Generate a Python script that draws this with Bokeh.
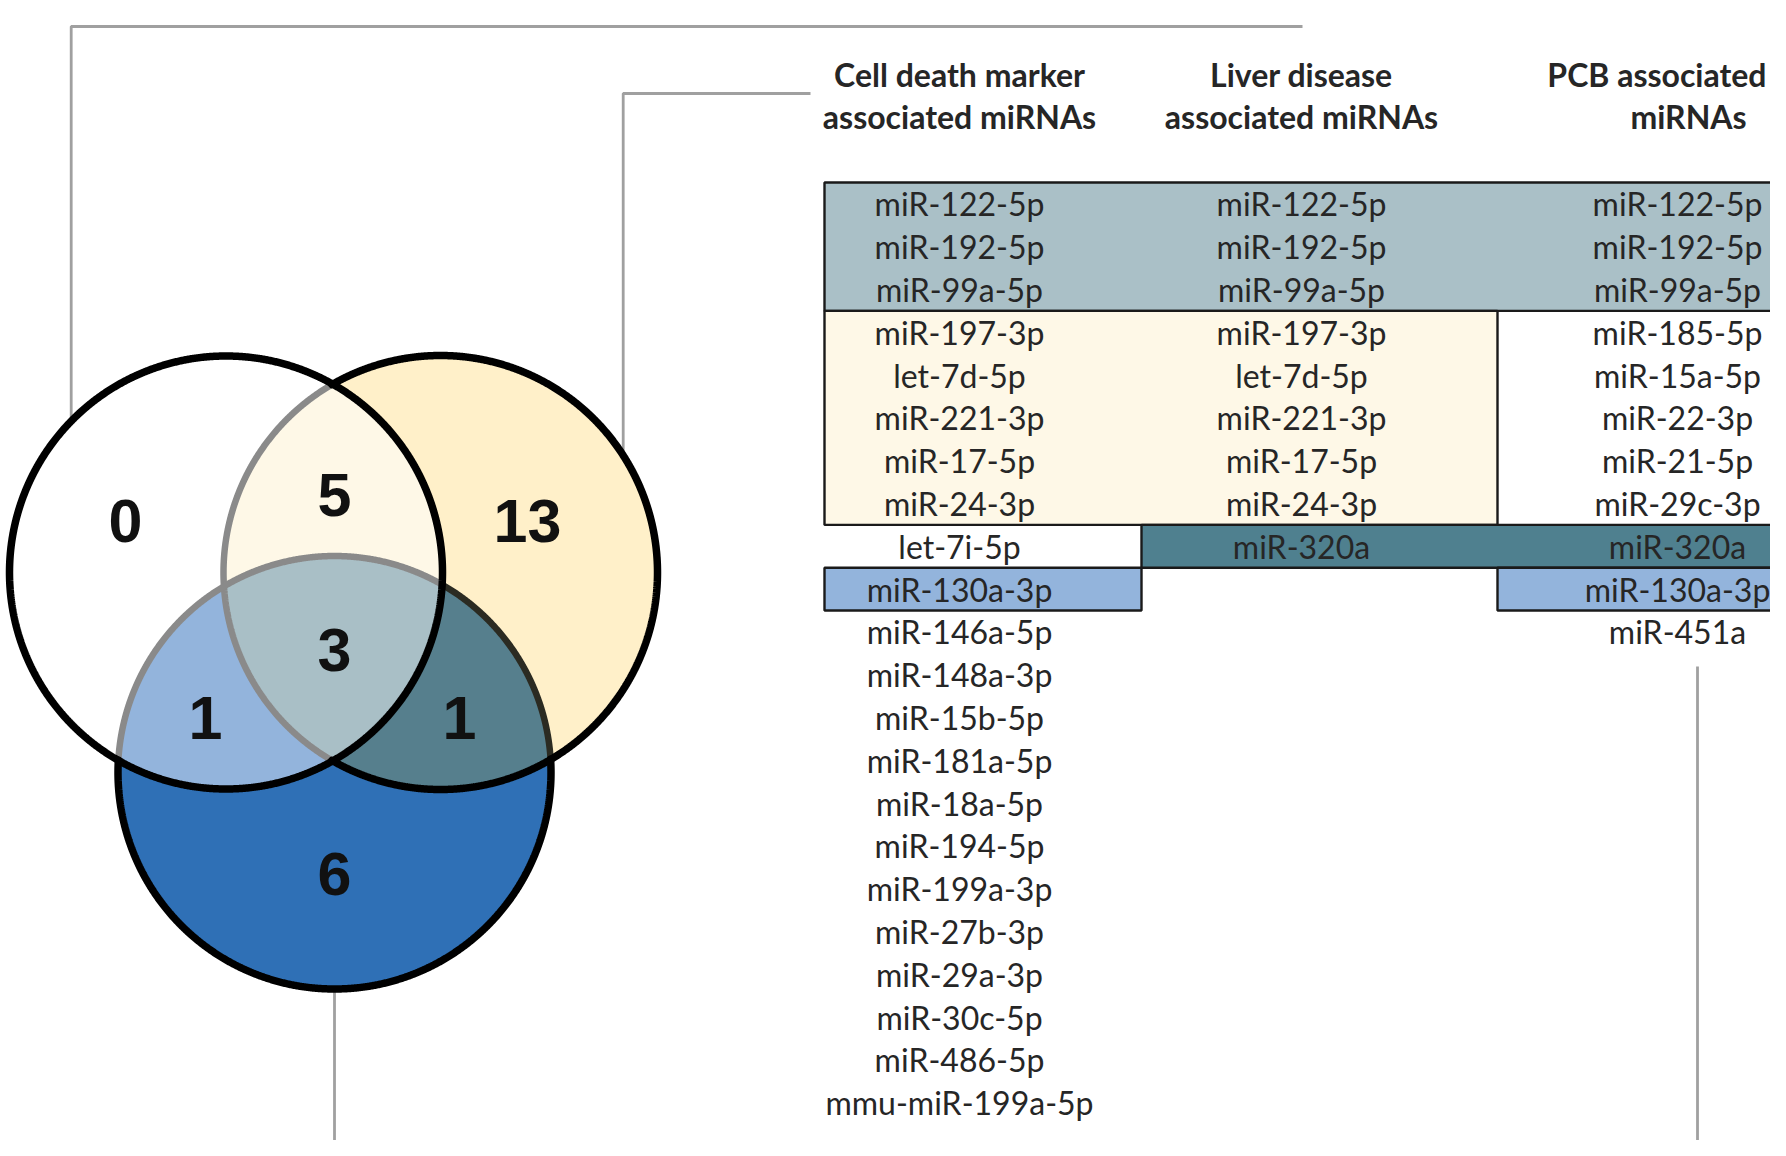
import numpy as np
from bokeh.plotting import figure
from bokeh.models import Range1d
from bokeh.core.properties import value
from bokeh.embed import file_html
from bokeh.resources import INLINE

# ---------------- data ----------------
venn_regions = ["Liver only", "Liver & Cell death", "Cell death only", "All three",
                "Liver & PCB", "Cell death & PCB", "PCB only"]
venn_counts = [0, 5, 13, 3, 1, 1, 6]

headers_line1 = ["Cell death marker", "Liver disease", "PCB associated"]
headers_line2 = ["associated miRNAs", "associated miRNAs", "miRNAs"]

cell_death_mirnas = ["miR-122-5p", "miR-192-5p", "miR-99a-5p", "miR-197-3p", "let-7d-5p",
                     "miR-221-3p", "miR-17-5p", "miR-24-3p", "let-7i-5p", "miR-130a-3p",
                     "miR-146a-5p", "miR-148a-3p", "miR-15b-5p", "miR-181a-5p", "miR-18a-5p",
                     "miR-194-5p", "miR-199a-3p", "miR-27b-3p", "miR-29a-3p", "miR-30c-5p",
                     "miR-486-5p", "mmu-miR-199a-5p"]
liver_mirnas = ["miR-122-5p", "miR-192-5p", "miR-99a-5p", "miR-197-3p", "let-7d-5p",
                "miR-221-3p", "miR-17-5p", "miR-24-3p", "miR-320a"]
pcb_mirnas = ["miR-122-5p", "miR-192-5p", "miR-99a-5p", "miR-185-5p", "miR-15a-5p",
              "miR-22-3p", "miR-21-5p", "miR-29c-3p", "miR-320a", "miR-130a-3p", "miR-451a"]

# highlighted groups in the table: (first row, last row) and (first column, last column)
group_rows = [(0, 2), (3, 7), (8, 8), (9, 9), (9, 9)]
group_cols = [(0, 2), (0, 1), (1, 2), (0, 0), (2, 2)]
group_colors = ["#aac0c7", "#fef8e7", "#4f808f", "#93b4dc", "#93b4dc"]

# ---------------- layout / style ----------------
W, H = 1770, 1140
p = figure(width=W, height=H, x_range=Range1d(0, W), y_range=Range1d(H, 0),
           output_backend="svg", toolbar_location=None, min_border=0,
           x_axis_location=None, y_axis_location=None)
p.grid.visible = False
p.outline_line_color = None
p.background_fill_color = "white"
p.border_fill_color = "white"

TXT = "#262626"
LINE_GREY = "#a0a0a0"

# circles: A = liver (white), B = cell death (yellow), C = PCB (blue)
A = (225.5, 572.0, 216.5)
B = (440.0, 572.0, 217.0)
C = (334.0, 772.0, 216.5)

N = 1440


def circ_pts(c, n=N):
    t = np.linspace(0, 2 * np.pi, n, endpoint=False)
    return c[0] + c[2] * np.cos(t), c[1] + c[2] * np.sin(t)


def inside(x, y, c):
    return (x - c[0]) ** 2 + (y - c[1]) ** 2 <= c[2] ** 2 + 1e-6


def intersection(circles):
    xs, ys = [], []
    for i, c in enumerate(circles):
        x, y = circ_pts(c)
        m = np.ones_like(x, dtype=bool)
        for j, o in enumerate(circles):
            if j != i:
                m &= inside(x, y, o)
        xs.append(x[m])
        ys.append(y[m])
    x = np.concatenate(xs)
    y = np.concatenate(ys)
    cx, cy = x.mean(), y.mean()
    order = np.argsort(np.arctan2(y - cy, x - cx))
    return list(x[order]), list(y[order])


def arc_runs(c, mask_fn):
    x, y = circ_pts(c)
    m = mask_fn(x, y)
    if m.all():
        return [list(np.append(x, x[0]))], [list(np.append(y, y[0]))]
    if not m.any():
        return [], []
    k = int(np.argmin(m))
    x, y, m = np.roll(x, -k), np.roll(y, -k), np.roll(m, -k)
    xs, ys = [], []
    i = 0
    n = len(m)
    while i < n:
        if m[i]:
            j = i
            while j < n and m[j]:
                j += 1
            a, b = max(i - 1, 0), min(j + 1, n)
            idx = list(range(a, b))
            if j >= n:
                idx.append(0)
            xs.append(list(x[idx]))
            ys.append(list(y[idx]))
            i = j
        else:
            i += 1
    return xs, ys


# connector lines (drawn under the circles)
p.line([70.7, 70.7, 1302], [572, 26, 26], line_color=LINE_GREY, line_width=2.8)
p.line([622.7, 622.7, 810], [572, 93, 93], line_color=LINE_GREY, line_width=2.8)
p.line([334, 334], [772, 1160], line_color=LINE_GREY, line_width=2.8)
p.line([1697, 1697], [666, 1160], line_color=LINE_GREY, line_width=2.8)

# region fills (layered)
fills = [
    ([B], "#fff0c9"),
    ([C], "#2f70b6"),
    ([B, C], "#567f8d"),
    ([A], "#ffffff"),
    ([A, B], "#fef8e7"),
    ([A, C], "#93b4dc"),
    ([A, B, C], "#a9bfc6"),
]
for circles, col in fills:
    if len(circles) == 1:
        x, y = circ_pts(circles[0])
        x, y = list(x), list(y)
    else:
        x, y = intersection(circles)
    p.patch(x, y, fill_color=col, line_color=None)

# outlines
grey_x, grey_y, dark_x, dark_y, blk_x, blk_y = [], [], [], [], [], []
for c in (B, C):
    gx, gy = arc_runs(c, lambda x, y: inside(x, y, A))
    grey_x += gx
    grey_y += gy
dx, dy = arc_runs(C, lambda x, y: inside(x, y, B) & ~inside(x, y, A))
dark_x += dx
dark_y += dy
bx, by = arc_runs(A, lambda x, y: np.ones_like(x, dtype=bool))
blk_x += bx
blk_y += by
bx, by = arc_runs(B, lambda x, y: ~inside(x, y, A))
blk_x += bx
blk_y += by
bx, by = arc_runs(C, lambda x, y: ~inside(x, y, A) & ~inside(x, y, B))
blk_x += bx
blk_y += by

p.multi_line(grey_x, grey_y, line_color="#8a8a8a", line_width=6.5)
p.multi_line(dark_x, dark_y, line_color="#2b2b22", line_width=6.5)
p.multi_line(blk_x, blk_y, line_color="#000000", line_width=7.5, line_cap="round")

# region labels
label_pos = {
    "Liver only": (125, 520),
    "Liver & Cell death": (334, 494),
    "Cell death only": (527, 520),
    "All three": (334, 649),
    "Liver & PCB": (205, 717),
    "Cell death & PCB": (459, 717),
    "PCB only": (334, 873),
}
p.text(x=[label_pos[r][0] for r in venn_regions], y=[label_pos[r][1] for r in venn_regions],
       text=[str(v) for v in venn_counts], text_align="center", text_baseline="middle",
       text_font=value("Liberation Sans"), text_font_style="bold", text_font_size="61px",
       text_color="#111111")

# ---------------- table ----------------
col_edges = [824, 1141, 1497, 1800]
col_text_x = [959, 1301, 1677]
row_top = 182.0
row_h = 42.8

for (r0, r1), (c0, c1), col in zip(group_rows, group_cols, group_colors):
    x0, x1 = col_edges[c0], col_edges[c1 + 1]
    y0, y1 = row_top + r0 * row_h, row_top + (r1 + 1) * row_h
    p.quad(left=x0, right=x1, top=y0, bottom=y1, fill_color=col,
           line_color="#1a1a1a", line_width=2.4)

columns = [cell_death_mirnas, liver_mirnas, pcb_mirnas]
for ci, names in enumerate(columns):
    ys = [row_top + (i + 0.5) * row_h for i in range(len(names))]
    p.text(x=[col_text_x[ci]] * len(names), y=ys, text=names, text_align="center",
           text_baseline="middle", text_font=value("Lato"), text_font_size="32px",
           text_color=TXT)

# headers (PCB header right-aligned so it stays inside the canvas)
hdr_x = [959, 1301, 1766]
hdr_align = ["center", "center", "right"]
for i in range(3):
    p.text(x=[hdr_x[i]], y=[74], text=[headers_line1[i]], text_align=hdr_align[i],
           text_baseline="middle", text_font=value("Lato"), text_font_style="bold",
           text_font_size="32px", text_color=TXT)
p.text(x=[959, 1301, 1688], y=[116] * 3, text=headers_line2, text_align="center",
       text_baseline="middle", text_font=value("Lato"), text_font_style="bold",
       text_font_size="32px", text_color=TXT)

open("out.html", "w").write(file_html(p, INLINE))
